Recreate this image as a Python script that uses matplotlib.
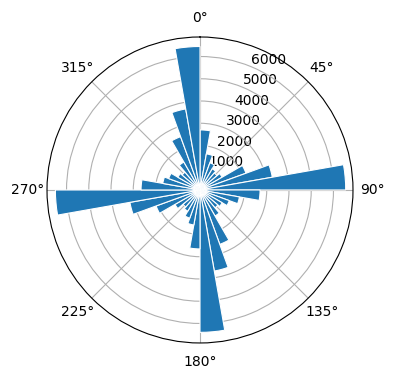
import numpy as np
import matplotlib
matplotlib.use("Agg")
import matplotlib.pyplot as plt

# bin start angles in degrees (10-degree bins)
bin_starts_deg = list(range(0, 360, 10))
counts = [
    # 0-90
    2700, 1650, 1300, 1100, 1000, 1150, 2200, 3300, 6550,
    # 90-180
    2700, 1800, 1400, 1150, 1050, 1350, 2600, 3700, 6400,
    # 180-270
    2650, 1600, 1350, 1100, 1000, 1300, 2100, 3200, 6500,
    # 270-360
    2650, 1700, 1500, 1150, 1050, 1450, 2550, 3700, 6450,
]

fig = plt.figure(figsize=(3.96, 3.80), dpi=100)
ax = fig.add_axes([0.1187, 0.0974, 0.7727, 0.8053], projection="polar")
ax.set_theta_zero_location("N")
ax.set_theta_direction(-1)

theta = np.deg2rad(bin_starts_deg)
width = np.deg2rad(10)
ax.bar(theta, counts, width=width, align="edge", color="#1f77b4",
       edgecolor="white", linewidth=0.8, zorder=2)

fig.savefig("out.png", dpi=100)
